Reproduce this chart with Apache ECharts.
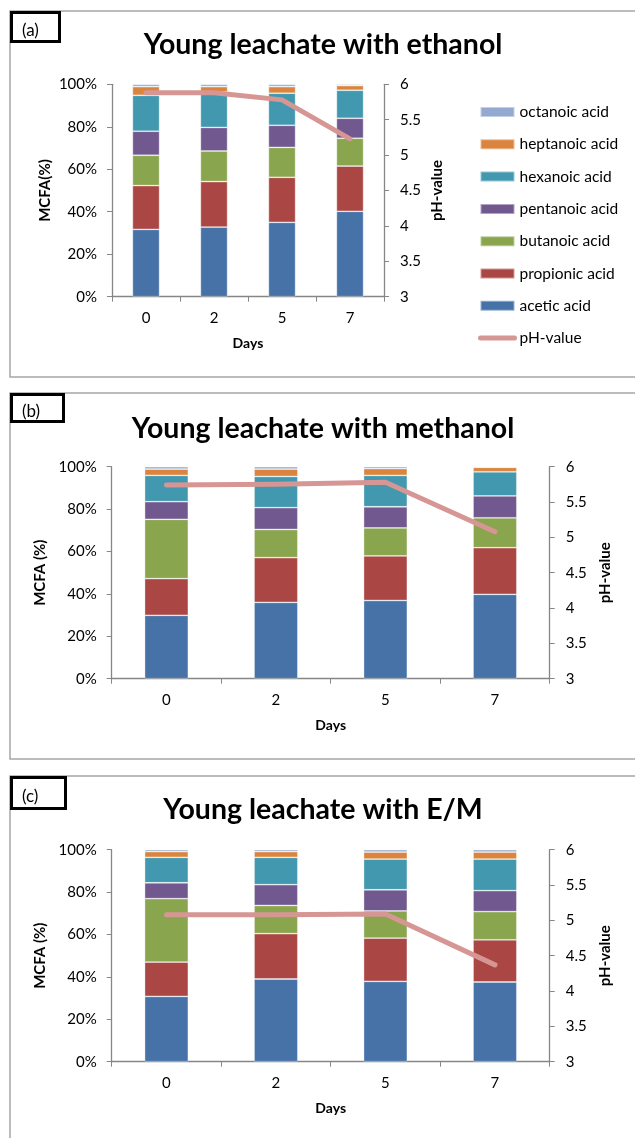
<!DOCTYPE html>
<html>
<head>
<meta charset="utf-8">
<script src="https://cdn.jsdelivr.net/npm/echarts@6/dist/echarts.min.js"></script>
<style>
  html, body { margin: 0; padding: 0; background: #ffffff; }
  #chart { width: 635px; height: 1138px; }
</style>
</head>
<body>
<div id="chart"></div>
<script>
// Sampling days and acid names (stacking order: bottom to top)
const days = ['0', '2', '5', '7'];
const acidNames = ['acetic acid', 'propionic acid', 'butanoic acid', 'pentanoic acid',
                   'hexanoic acid', 'heptanoic acid', 'octanoic acid'];
const phName = 'pH-value';
const percentTicks = [0, 20, 40, 60, 80, 100];
const phTicks = [3, 3.5, 4, 4.5, 5, 5.5, 6];

// (a) young leachate with ethanol — share of each acid (%) per day
const ethanolAcetic    = [31.7, 32.8, 35.0, 40.2];
const ethanolPropionic = [20.6, 21.4, 21.2, 21.3];
const ethanolButanoic  = [14.3, 14.4, 14.1, 13.1];
const ethanolPentanoic = [11.3, 11.1, 10.4, 9.4];
const ethanolHexanoic  = [16.9, 16.7, 15.1, 13.2];
const ethanolHeptanoic = [4.1, 2.5, 3.1, 2.2];
const ethanolOctanoic  = [1.1, 1.1, 1.1, 0.6];
const ethanolPH        = [5.88, 5.88, 5.78, 5.23];

// (b) young leachate with methanol
const methanolAcetic    = [29.9, 36.0, 36.9, 39.8];
const methanolPropionic = [17.3, 21.1, 21.0, 22.0];
const methanolButanoic  = [28.0, 13.3, 13.2, 14.1];
const methanolPentanoic = [8.3, 10.3, 10.0, 10.3];
const methanolHexanoic  = [12.4, 14.7, 14.8, 11.4];
const methanolHeptanoic = [3.0, 3.5, 3.2, 2.1];
const methanolOctanoic  = [1.1, 1.1, 0.9, 0.3];
const methanolPH        = [5.74, 5.75, 5.78, 5.08];

// (c) young leachate with ethanol/methanol mix
const emAcetic    = [30.8, 39.0, 37.9, 37.6];
const emPropionic = [16.2, 21.4, 20.4, 19.9];
const emButanoic  = [29.9, 13.3, 12.8, 13.3];
const emPentanoic = [7.5, 9.8, 10.0, 9.9];
const emHexanoic  = [12.0, 12.9, 14.5, 14.9];
const emHeptanoic = [2.7, 2.7, 3.3, 3.3];
const emOctanoic  = [0.9, 0.9, 1.1, 1.1];
const emPH        = [5.08, 5.08, 5.09, 4.37];

// Styling
const acidColors = ['#4672a8', '#aa4643', '#89a54e', '#71588f', '#4198af', '#db843d', '#93a9cf'];
const phColor = '#d69694';
const axisGrey = '#868686';
const frameGrey = '#a6a6a6';
const FONT = 'Lato, "Open Sans", sans-serif';

const panels = [
  { tag: '(a)', title: 'Young leachate with ethanol', yName: 'MCFA(%)',
    acids: [ethanolAcetic, ethanolPropionic, ethanolButanoic, ethanolPentanoic,
            ethanolHexanoic, ethanolHeptanoic, ethanolOctanoic], ph: ethanolPH,
    frame: { y: 11, h: 366 }, tagBox: { w: 51, h: 32 }, titleY: 30.5,
    grid: { left: 112, top: 84.3, width: 272, height: 212.4 }, yNameGap: 59 },
  { tag: '(b)', title: 'Young leachate with methanol', yName: 'MCFA (%)',
    acids: [methanolAcetic, methanolPropionic, methanolButanoic, methanolPentanoic,
            methanolHexanoic, methanolHeptanoic, methanolOctanoic], ph: methanolPH,
    frame: { y: 393, h: 366 }, tagBox: { w: 55, h: 30 }, titleY: 414.5,
    grid: { left: 111.7, top: 466.7, width: 438, height: 212 }, yNameGap: 57 },
  { tag: '(c)', title: 'Young leachate with E/M', yName: 'MCFA (%)',
    acids: [emAcetic, emPropionic, emButanoic, emPentanoic,
            emHexanoic, emHeptanoic, emOctanoic], ph: emPH,
    frame: { y: 776, h: 420 }, tagBox: { w: 57, h: 34 }, titleY: 795.5,
    grid: { left: 111.7, top: 849.7, width: 438, height: 212 }, yNameGap: 57 }
];

const grids = [], xAxes = [], yAxes = [], series = [], graphics = [];

panels.forEach((p, i) => {
  grids.push(Object.assign({ containLabel: false }, p.grid));

  xAxes.push({
    type: 'category', gridIndex: i, data: days, boundaryGap: true,
    name: 'Days', nameLocation: 'middle', nameGap: 40,
    nameTextStyle: { fontFamily: FONT, fontWeight: 'bold', fontSize: 14, color: '#000' },
    axisLine: { lineStyle: { color: axisGrey, width: 1.3 } },
    axisTick: { show: true, length: 5, inside: false, alignWithLabel: false, lineStyle: { color: axisGrey } },
    axisLabel: { fontFamily: FONT, fontSize: 15, color: '#000', margin: 14 },
    splitLine: { show: false }
  });

  yAxes.push({
    type: 'value', gridIndex: i, position: 'left',
    min: percentTicks[0], max: percentTicks[percentTicks.length - 1], interval: 20,
    name: p.yName, nameLocation: 'middle', nameRotate: 90, nameGap: p.yNameGap,
    nameTextStyle: { fontFamily: FONT, fontWeight: 'bold', fontSize: 15, color: '#000' },
    axisLine: { show: true, lineStyle: { color: axisGrey, width: 1.3 } },
    axisTick: { show: true, length: 5, lineStyle: { color: axisGrey } },
    axisLabel: { fontFamily: FONT, fontSize: 15, color: '#000', margin: 15, formatter: '{value}%' },
    splitLine: { show: false }
  });

  yAxes.push({
    type: 'value', gridIndex: i, position: 'right',
    min: phTicks[0], max: phTicks[phTicks.length - 1], interval: 0.5,
    name: phName, nameLocation: 'middle', nameRotate: 90, nameGap: 46,
    nameTextStyle: { fontFamily: FONT, fontWeight: 'bold', fontSize: 15, color: '#000' },
    axisLine: { show: true, lineStyle: { color: axisGrey, width: 1.3 } },
    axisTick: { show: true, length: 5, lineStyle: { color: axisGrey } },
    axisLabel: { fontFamily: FONT, fontSize: 15, color: '#000', margin: 16 },
    splitLine: { show: false }
  });

  p.acids.forEach((vals, k) => {
    series.push({
      name: acidNames[k], type: 'bar', stack: 'panel' + i,
      xAxisIndex: i, yAxisIndex: i * 2, barWidth: '40%',
      itemStyle: { color: acidColors[k], borderColor: 'rgba(255,255,255,0.45)', borderWidth: 0.8 },
      data: vals, z: 2
    });
  });

  series.push({
    name: phName, type: 'line', xAxisIndex: i, yAxisIndex: i * 2 + 1,
    data: p.ph, symbol: 'none', z: 5,
    lineStyle: { color: phColor, width: 5, cap: 'round', join: 'round' },
    itemStyle: { color: phColor }
  });

  // panel frame (extends past the right edge)
  graphics.push({
    type: 'rect', z: 0,
    shape: { x: 10, y: p.frame.y, width: 700, height: p.frame.h },
    style: { fill: 'transparent', stroke: frameGrey, lineWidth: 1.5 }
  });
  // panel tag box
  graphics.push({
    type: 'rect', z: 10,
    shape: { x: 11.5, y: p.frame.y + 1.5, width: p.tagBox.w - 3, height: p.tagBox.h - 3 },
    style: { fill: '#ffffff', stroke: '#000000', lineWidth: 3 }
  });
  graphics.push({
    type: 'text', z: 11,
    style: { x: 22, y: p.frame.y + p.tagBox.h / 2 + 4, text: p.tag, fill: '#000',
             font: '17px ' + FONT, textAlign: 'left', textVerticalAlign: 'middle' }
  });
  // panel title
  graphics.push({
    type: 'text', z: 11,
    style: { x: 323, y: p.titleY, text: p.title, fill: '#000',
             font: 'bold 28.5px ' + FONT, textAlign: 'center', textVerticalAlign: 'top' }
  });
});

const chart = echarts.init(document.getElementById('chart'), null, { renderer: 'canvas' });
chart.setOption({
  animation: false,
  backgroundColor: '#ffffff',
  grid: grids,
  xAxis: xAxes,
  yAxis: yAxes,
  legend: {
    orient: 'vertical', left: 478, top: 104, padding: 0,
    itemWidth: 34, itemHeight: 10, itemGap: 16.3,
    textStyle: { fontFamily: FONT, fontSize: 15.5, color: '#000', lineHeight: 15 },
    data: acidNames.slice().reverse().map(n => ({ name: n, icon: 'rect' })).concat([{
      name: phName,
      itemStyle: { opacity: 0 },
      lineStyle: { color: phColor, width: 5, cap: 'round', opacity: 1 }
    }])
  },
  graphic: graphics,
  series: series
});
</script>
</body>
</html>
